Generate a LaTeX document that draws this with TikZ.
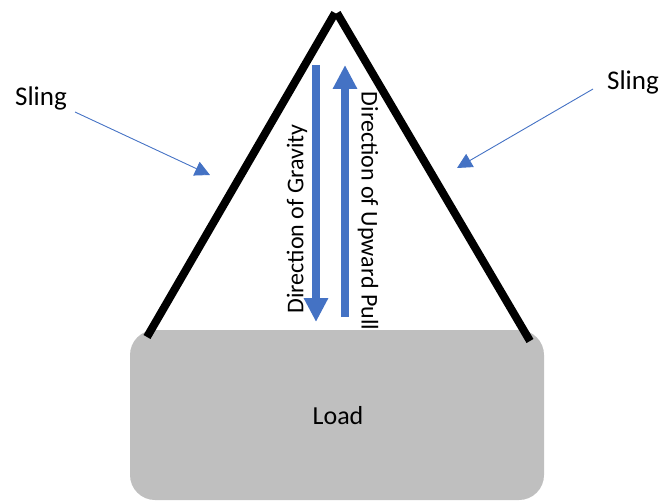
\documentclass[tikz,border=0pt]{standalone}
\usepackage{fontspec}
\setmainfont{Carlito}
\usetikzlibrary{arrows.meta}
\definecolor{officeblue}{HTML}{4472C4}
\definecolor{loadgray}{HTML}{BFBFBF}
\tikzset{
  sling/.style={line width=8pt, black, line cap=butt},
  force/.style={line width=7.5pt, officeblue, -{Triangle[width=23pt,length=24pt]}},
  pointer/.style={line width=0.9pt, officeblue, -{Triangle[width=15pt,length=15pt]}},
  lbl/.style={font=\fontsize{24}{28}\selectfont, inner sep=0pt},
  biglbl/.style={font=\fontsize{27}{32}\selectfont, inner sep=0pt},
}
\begin{document}
\begin{tikzpicture}[x=1pt,y=-1pt]
  \useasboundingbox (0,0) rectangle (660,500);
  % load
  \node[fill=loadgray, rounded corners=25pt, minimum width=414pt, minimum height=170pt, inner sep=0pt] (load) at (337,415) {};
  \node[font=\fontsize{26}{30}\selectfont, inner sep=0pt] (loadtxt) at (338,416) {Load};
  % sling legs
  \coordinate (apexL) at (335,13);
  \coordinate (apexR) at (337,13);
  \coordinate (footL) at (147,337);
  \coordinate (footR) at (530,341);
  \draw[sling] (footL) -- (apexL);
  \draw[sling] (apexR) -- (footR);
  % forces
  \coordinate (gtop) at (316,65);
  \coordinate (gbot) at (316,322);
  \coordinate (ptop) at (345,65);
  \coordinate (pbot) at (345,317);
  \draw[force] (gtop) -- (gbot);
  \draw[force] (pbot) -- (ptop);
  \node[lbl, rotate=90] (gtxt) at (297,219) {Direction of Gravity};
  \node[lbl, rotate=-90] (ptxt) at (368,211) {Direction of Upward Pull};
  % sling labels
  \node[biglbl] (slingL) at (41,98) {Sling};
  \node[biglbl] (slingR) at (633,82) {Sling};
  \coordinate (startL) at (75,112);
  \coordinate (tipL) at (210,175);
  \coordinate (startR) at (593,89);
  \coordinate (tipR) at (457,168);
  \draw[pointer] (startL) -- (tipL);
  \draw[pointer] (startR) -- (tipR);
\end{tikzpicture}
\end{document}
